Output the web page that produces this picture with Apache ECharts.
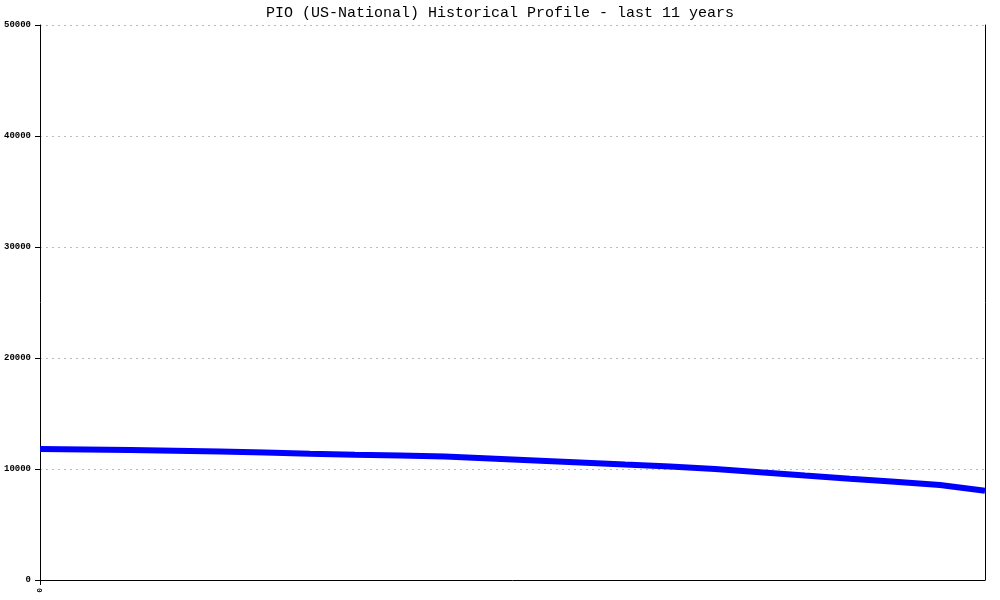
<!DOCTYPE html>
<html>
<head>
<meta charset="utf-8">
<script src="https://cdn.jsdelivr.net/npm/echarts@6/dist/echarts.min.js"></script>
<style>
  html, body { margin: 0; padding: 0; background: #fff; }
  #chart { width: 1000px; height: 600px; }
</style>
</head>
<body>
<div id="chart"></div>
<script>
  // data
  const titleText = "PIO (US-National) Historical Profile - last 11 years";
  const xLabels = ["0", "", "", "", "", "", "", "", "", "", "", "", "", "", "", "", "", "", "", "", "", ""];
  const pioValues = [11800, 11760, 11710, 11650, 11580, 11490, 11380, 11280, 11220, 11130, 10950,
                     10770, 10590, 10400, 10220, 10000, 9700, 9410, 9130, 8860, 8560, 8040];
  const yTicks = [0, 10000, 20000, 30000, 40000, 50000];

  const myChart = echarts.init(document.getElementById("chart"));

  const option = {
    animation: false,
    backgroundColor: "#ffffff",
    title: {
      text: titleText,
      left: "center",
      top: 1,
      textStyle: {
        fontFamily: "Liberation Mono",
        fontSize: 15,
        fontWeight: "normal",
        color: "#000"
      }
    },
    grid: { left: 40, right: 15, top: 25, bottom: 20, outerBoundsMode: "none" },
    xAxis: {
      type: "category",
      data: xLabels,
      boundaryGap: false,
      axisLine: { lineStyle: { color: "#000", width: 1 } },
      axisTick: {
        show: true,
        interval: (i) => i === 0,
        length: 5,
        lineStyle: { color: "#000" }
      },
      axisLabel: {
        interval: (i) => i === 0,
        rotate: 90,
        margin: 8,
        fontFamily: "Liberation Mono",
        fontSize: 8,
        fontWeight: "bold",
        color: "#000"
      },
      splitLine: { show: false }
    },
    yAxis: [
      {
        type: "value",
        min: yTicks[0],
        max: yTicks[yTicks.length - 1],
        interval: yTicks[1] - yTicks[0],
        axisLine: { show: true, lineStyle: { color: "#000", width: 1 } },
        axisTick: { show: true, length: 5, lineStyle: { color: "#000" } },
        axisLabel: {
          margin: 9,
          fontFamily: "Liberation Mono",
          fontSize: 9,
          fontWeight: "bold",
          color: "#000",
          formatter: (v) => String(v)
        },
        splitLine: {
          show: true,
          lineStyle: { color: "#bbbbbb", type: [2, 4], width: 1 }
        }
      },
      {
        // right border line only
        type: "value",
        position: "right",
        min: yTicks[0],
        max: yTicks[yTicks.length - 1],
        interval: yTicks[1] - yTicks[0],
        axisLine: { show: true, lineStyle: { color: "#000", width: 1 } },
        axisTick: { show: false },
        axisLabel: { show: false },
        splitLine: { show: false }
      }
    ],
    series: [
      {
        name: "PIO",
        type: "line",
        data: pioValues,
        showSymbol: false,
        smooth: false,
        lineStyle: { color: "#0000ff", width: 6, cap: "butt" }
      }
    ]
  };

  myChart.setOption(option);
</script>
</body>
</html>
